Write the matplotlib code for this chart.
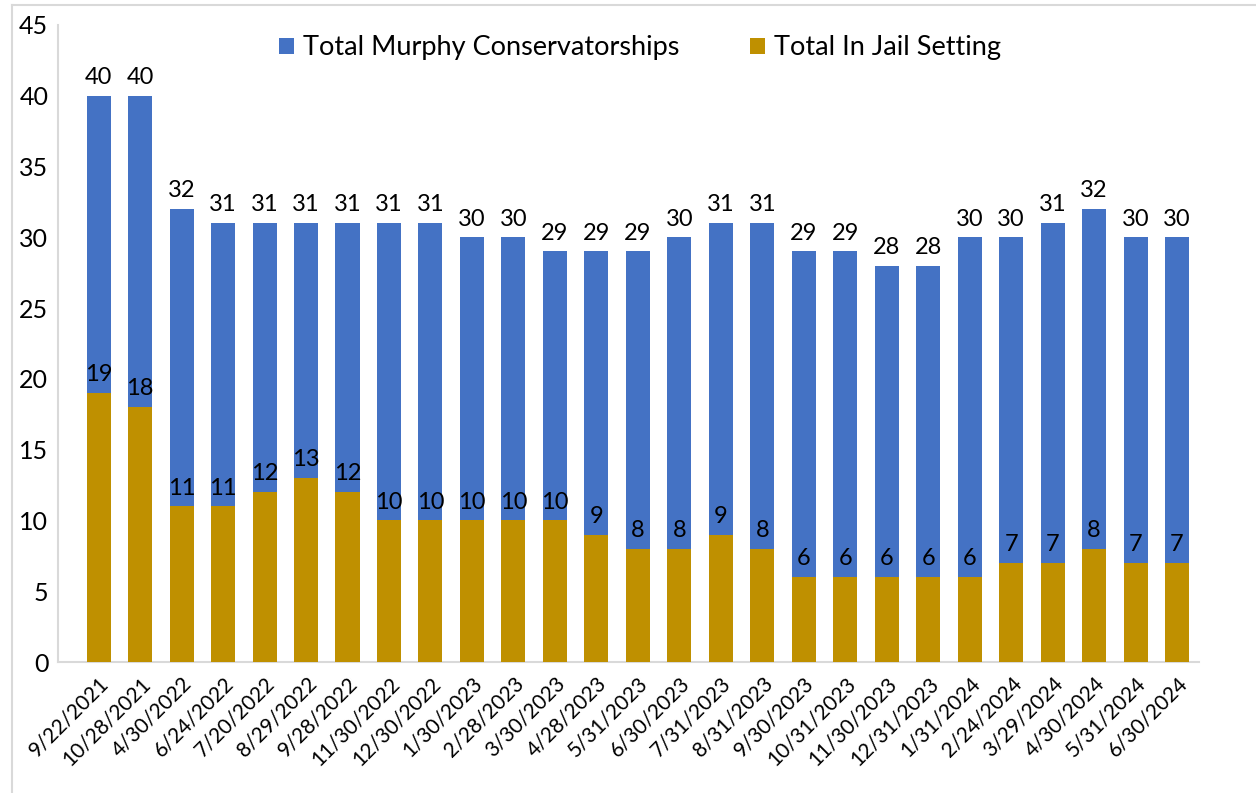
import matplotlib
matplotlib.use("Agg")
import matplotlib.pyplot as plt
from matplotlib.lines import Line2D
import numpy as np

dates = ["9/22/2021", "10/28/2021", "4/30/2022", "6/24/2022", "7/20/2022", "8/29/2022",
         "9/28/2022", "11/30/2022", "12/30/2022", "1/30/2023", "2/28/2023", "3/30/2023",
         "4/28/2023", "5/31/2023", "6/30/2023", "7/31/2023", "8/31/2023", "9/30/2023",
         "10/31/2023", "11/30/2023", "12/31/2023", "1/31/2024", "2/24/2024", "3/29/2024",
         "4/30/2024", "5/31/2024", "6/30/2024"]
total_murphy = [40, 40, 32, 31, 31, 31, 31, 31, 31, 30, 30, 29, 29, 29, 30, 31, 31,
                29, 29, 28, 28, 30, 30, 31, 32, 30, 30]
total_jail = [19, 18, 11, 11, 12, 13, 12, 10, 10, 10, 10, 10, 9, 8, 8, 9, 8,
              6, 6, 6, 6, 6, 7, 7, 8, 7, 7]
y_ticks = [0, 5, 10, 15, 20, 25, 30, 35, 40, 45]

plt.rcParams['font.family'] = ['Lato', 'DejaVu Sans']

fig = plt.figure(figsize=(12.56, 7.93), dpi=100)
ax = fig.add_axes([58/1256, 1-662/793, (1199-58)/1256, (662-25)/793])

x = np.arange(len(dates))
w = 0.58
blue = "#4472C4"
gold = "#BF9000"
ax.bar(x, total_murphy, width=w, color=blue, label="Total Murphy Conservatorships", zorder=2)
ax.bar(x, total_jail, width=w, color=gold, label="Total In Jail Setting", zorder=3)

for xi, v in zip(x, total_murphy):
    ax.text(xi, v + 0.55, str(v), ha="center", va="bottom", fontsize=17, zorder=4)
for xi, v in zip(x, total_jail):
    ax.text(xi, v + 0.55, str(v), ha="center", va="bottom", fontsize=17, zorder=4)

ax.set_xlim(-0.98, len(dates) - 0.47)
ax.set_ylim(0, 45)
ax.set_yticks(y_ticks)
ax.set_yticklabels([str(t) for t in y_ticks], fontsize=18)
ax.set_xticks(x)
ax.set_xticklabels(dates, rotation=45, ha="right", rotation_mode="anchor", fontsize=15)
ax.tick_params(axis="both", length=0)
ax.tick_params(axis="y", pad=7)
ax.tick_params(axis="x", pad=8)

for s in ["top", "right"]:
    ax.spines[s].set_visible(False)
for s in ["left", "bottom"]:
    ax.spines[s].set_color("#D9D9D9")
    ax.spines[s].set_linewidth(1.5)

ax.legend(loc="center", bbox_to_anchor=(0.51, 0.964), ncol=2, frameon=False,
          fontsize=19.5, handlelength=0.55, handleheight=0.55, columnspacing=2.6,
          handletextpad=0.35)

# outer frame lines (cropped chart border)
fig.add_artist(Line2D([12/1256, 1], [1-5/793, 1-5/793], color="#D9D9D9", lw=1.5))
fig.add_artist(Line2D([12/1256, 12/1256], [0, 1-5/793], color="#D9D9D9", lw=1.5))

fig.savefig("out.png", dpi=100)
